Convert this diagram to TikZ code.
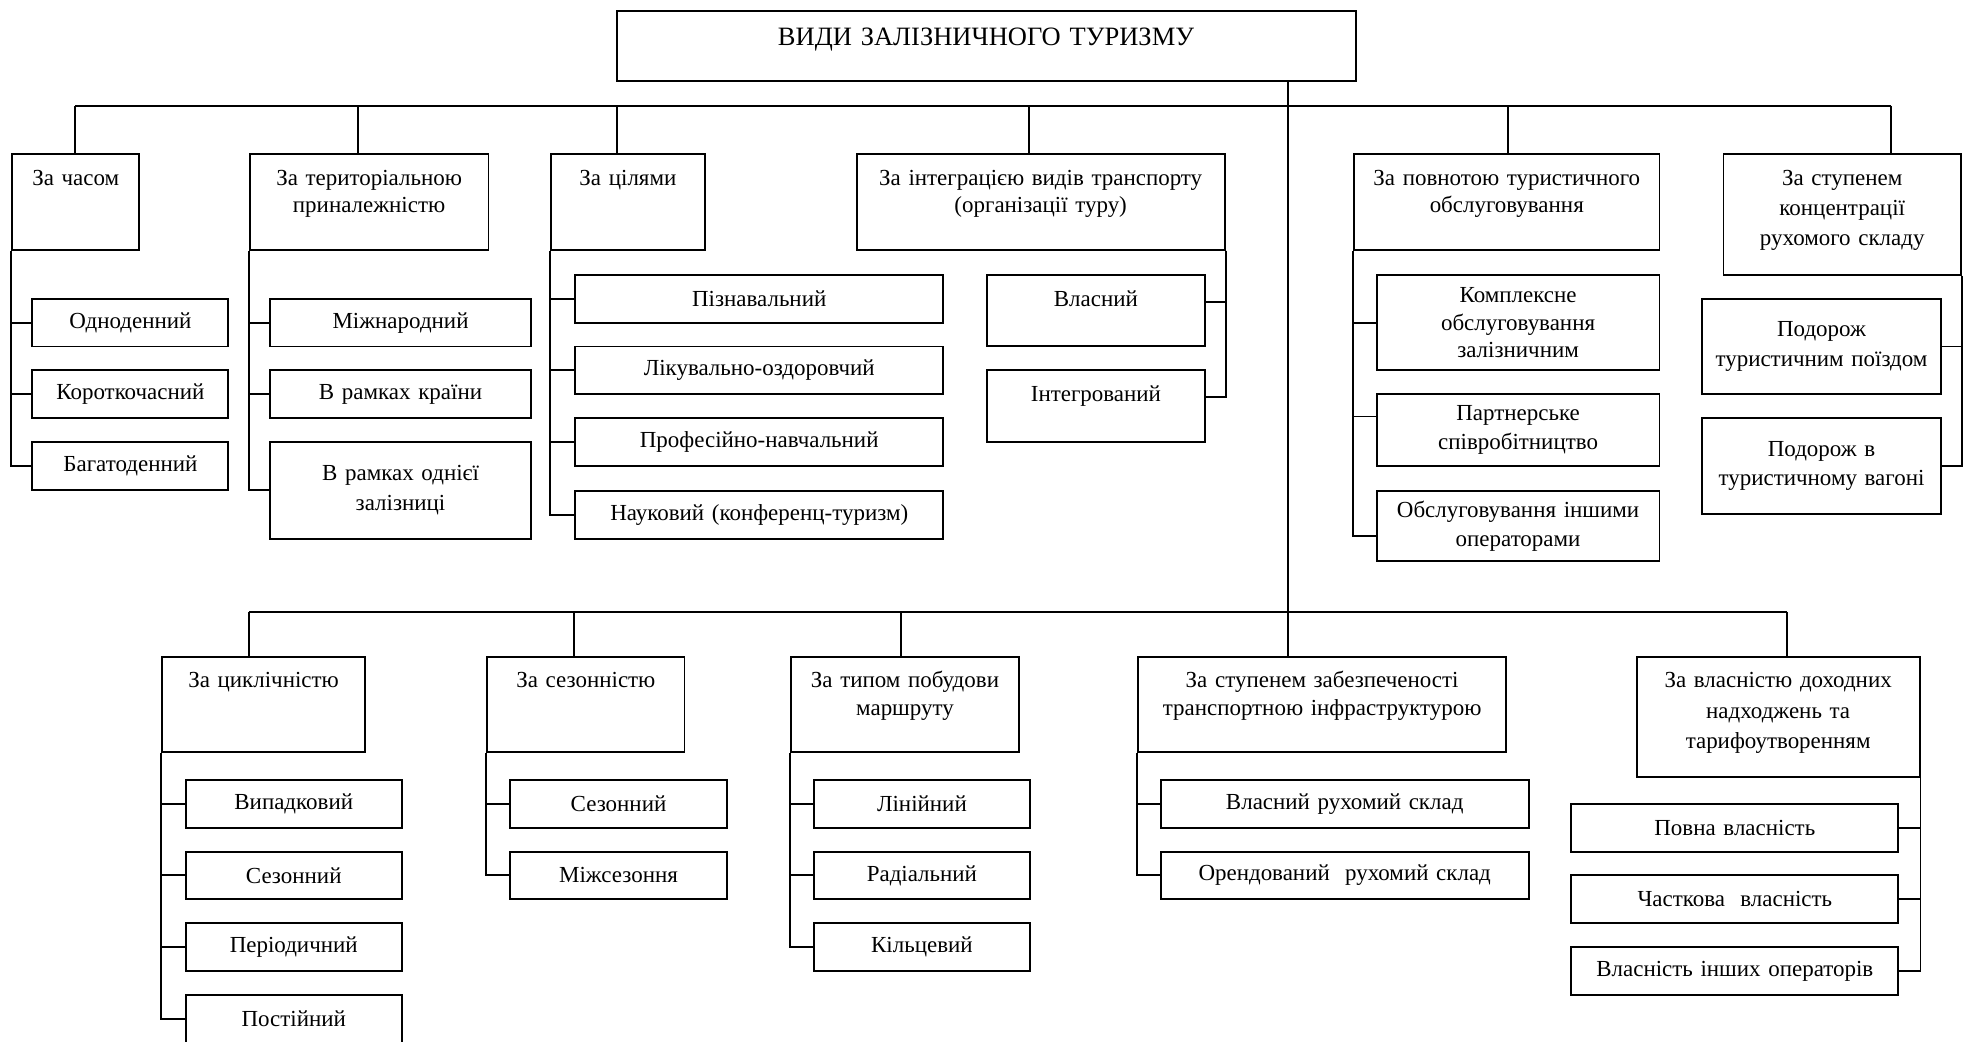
\documentclass[tikz,border=0pt]{standalone}
\usepackage{fontspec}
\setmainfont{Liberation Serif}
\usetikzlibrary{calc}
\tikzset{
  blk/.style={draw,line width=1.1pt,anchor=north west,inner sep=0pt,align=center,font=\fontsize{13}{15.5}\selectfont},
  hdrblk/.style={blk,font=\fontsize{15}{18}\selectfont,text height=0.69cm,text depth=0.71cm},
  catblk/.style={blk,text height=0.62cm,text depth=1.28cm},
  tallblk/.style={catblk,text depth=1.78cm,font=\fontsize{13}{17}\selectfont},
  leafblk/.style={blk,minimum height=0.95cm},
  conn/.style={line width=1.1pt}
}

\begin{document}
\begin{tikzpicture}[x=0.025cm, y=-0.025cm]
  \useasboundingbox (0,0) rectangle (1568,829);
  % Root
  \node[hdrblk,text width=14.7cm] (hdr) at (490,8) {ВИДИ ЗАЛІЗНИЧНОГО ТУРИЗМУ};

  % Bus junctions
  \coordinate (b1) at (60,84);   \coordinate (b2) at (285,84);
  \coordinate (b3) at (491,84);  \coordinate (b4) at (819,84);
  \coordinate (b5) at (1200,84); \coordinate (b6) at (1505,84);
  \coordinate (d1) at (198,487); \coordinate (d2) at (457,487);
  \coordinate (d3) at (717,487); \coordinate (d4) at (1025,487);
  \coordinate (d5) at (1422,487);

  \draw[conn] (hdr.south -| d4) -- (d4);
  \draw[conn] (b1) -- (b6);
  \draw[conn] (d1) -- (d5);

  % Upper categories
  \node[catblk,text width=2.525cm] (chas) at (9,122) {За часом};
  \node[catblk,text width=4.75cm] (ter) at (198,122) {За територіальною\\приналежністю};
  \node[catblk,text width=3.05cm] (cil) at (438,122) {За цілями};
  \node[catblk,text width=7.325cm] (intg) at (681,122) {За інтеграцією видів транспорту\\(організації туру)};
  \node[catblk,text width=6.075cm] (povn) at (1077,122) {За повнотою туристичного\\обслуговування};
  \node[tallblk,text width=4.725cm] (konc) at (1371,122) {За ступенем\\концентрації\\рухомого складу};

  \foreach \b/\c in {b1/chas,b2/ter,b3/cil,b4/intg,b5/povn,b6/konc}
    \draw[conn] (\b) -- (\b |- \c.north);

  % За часом
  \foreach \n/\y/\t in {chas1/237/Одноденний,chas2/294/Короткочасний,chas3/351/Багатоденний}
    \node[leafblk,text width=3.9cm] (\n) at (25,\y) {\t};
  \foreach \n in {chas1,chas2,chas3}
    \draw[conn] (chas.south west) |- (\n.west);

  % За територіальною приналежністю
  \node[leafblk,text width=5.2cm] (ter1) at (214,237) {Міжнародний};
  \node[leafblk,text width=5.2cm] (ter2) at (214,294) {В рамках країни};
  \node[leafblk,text width=5.2cm,minimum height=1.925cm,font=\fontsize{13}{17}\selectfont] (ter3) at (214,351) {В рамках однієї\\залізниці};
  \foreach \n in {ter1,ter2,ter3}
    \draw[conn] (ter.south west) |- (\n.west);

  % За цілями
  \foreach \n/\y/\t in {cil1/218/Пізнавальний,cil2/275/Лікувально-оздоровчий,cil3/332/Професійно-навчальний,cil4/390/Науковий (конференц-туризм)}
    \node[leafblk,text width=7.325cm] (\n) at (457,\y) {\t};
  \foreach \n in {cil1,cil2,cil3,cil4}
    \draw[conn] (cil.south west) |- (\n.west);

  % За інтеграцією
  \node[catblk,text width=4.325cm,text depth=0.8cm] (intg1) at (785,218) {Власний};
  \node[catblk,text width=4.325cm,text depth=0.8cm] (intg2) at (785,294) {Інтегрований};
  \foreach \n in {intg1,intg2}
    \draw[conn] (intg.south east) |- (\n.mid east);

  % За повнотою обслуговування
  \node[leafblk,text width=5.625cm,minimum height=1.9cm] (povn1) at (1095,218) {Комплексне\\обслуговування\\залізничним};
  \node[leafblk,text width=5.625cm,minimum height=1.425cm,font=\fontsize{13}{16.5}\selectfont] (povn2) at (1095,313) {Партнерське\\співробітництво};
  \node[leafblk,text width=5.625cm,minimum height=1.4cm,font=\fontsize{13}{16.5}\selectfont] (povn3) at (1095,390) {Обслуговування іншими\\операторами};
  \draw[conn] (povn.south west) |- (povn1.west);
  \draw[conn] (povn.south west) |- (povn2.mid west);
  \draw[conn] (povn.south west) |- ($(povn3.west)+(0,8)$);

  % За концентрацією рухомого складу
  \node[leafblk,text width=4.75cm,minimum height=1.9cm,font=\fontsize{13}{16.5}\selectfont] (konc1) at (1354,237) {Подорож\\туристичним поїздом};
  \node[leafblk,text width=4.75cm,minimum height=1.9cm,font=\fontsize{13}{16.5}\selectfont] (konc2) at (1354,332) {Подорож в\\туристичному вагоні};
  \foreach \n in {konc1,konc2}
    \draw[conn] (konc.south east) |- (\n.east);

  % Lower categories
  \node[catblk,text width=4.05cm] (cykl) at (128,522) {За циклічністю};
  \node[catblk,text width=3.925cm] (sez) at (387,522) {За сезонністю};
  \node[catblk,text width=4.525cm] (typ) at (629,522) {За типом побудови\\маршруту};
  \node[catblk,text width=7.325cm] (infr) at (905,522) {За ступенем забезпеченості\\транспортною інфраструктурою};
  \node[tallblk,text width=5.625cm] (vlas) at (1302,522) {За власністю доходних\\надходжень та\\тарифоутворенням};

  \foreach \d/\c in {d1/cykl,d2/sez,d3/typ,d4/infr,d5/vlas}
    \draw[conn] (\d) -- (\d |- \c.north);

  % За циклічністю
  \foreach \n/\y/\t in {cykl1/620/Випадковий,cykl2/677/Сезонний,cykl3/734/Періодичний,cykl4/791/Постійний}
    \node[leafblk,text width=4.3cm] (\n) at (147,\y) {\t};
  \foreach \n in {cykl1,cykl2,cykl3,cykl4}
    \draw[conn] (cykl.south west) |- (\n.west);

  % За сезонністю
  \foreach \n/\y/\t in {sez1/620/Сезонний,sez2/677/Міжсезоння}
    \node[leafblk,text width=4.325cm] (\n) at (405,\y) {\t};
  \foreach \n in {sez1,sez2}
    \draw[conn] (sez.south west) |- (\n.west);

  % За типом маршруту
  \foreach \n/\y/\t in {typ1/620/Лінійний,typ2/677/Радіальний,typ3/734/Кільцевий}
    \node[leafblk,text width=4.3cm] (\n) at (647,\y) {\t};
  \foreach \n in {typ1,typ2,typ3}
    \draw[conn] (typ.south west) |- (\n.west);

  % За забезпеченістю інфраструктурою
  \node[leafblk,text width=7.325cm] (infr1) at (923,620) {Власний рухомий склад};
  \node[leafblk,text width=7.325cm] (infr2) at (923,677) {Орендований\ \ рухомий склад};
  \foreach \n in {infr1,infr2}
    \draw[conn] (infr.south west) |- (\n.west);

  % За власністю доходних надходжень
  \node[leafblk,text width=6.5cm] (vlas1) at (1250,639) {Повна власність};
  \node[leafblk,text width=6.5cm] (vlas2) at (1250,696) {Часткова\ \ власність};
  \node[leafblk,text width=6.5cm] (vlas3) at (1250,753) {Власність інших операторів};
  \foreach \n in {vlas1,vlas2,vlas3}
    \draw[conn] (vlas.south east) |- (\n.east);

\end{tikzpicture}
\end{document}
